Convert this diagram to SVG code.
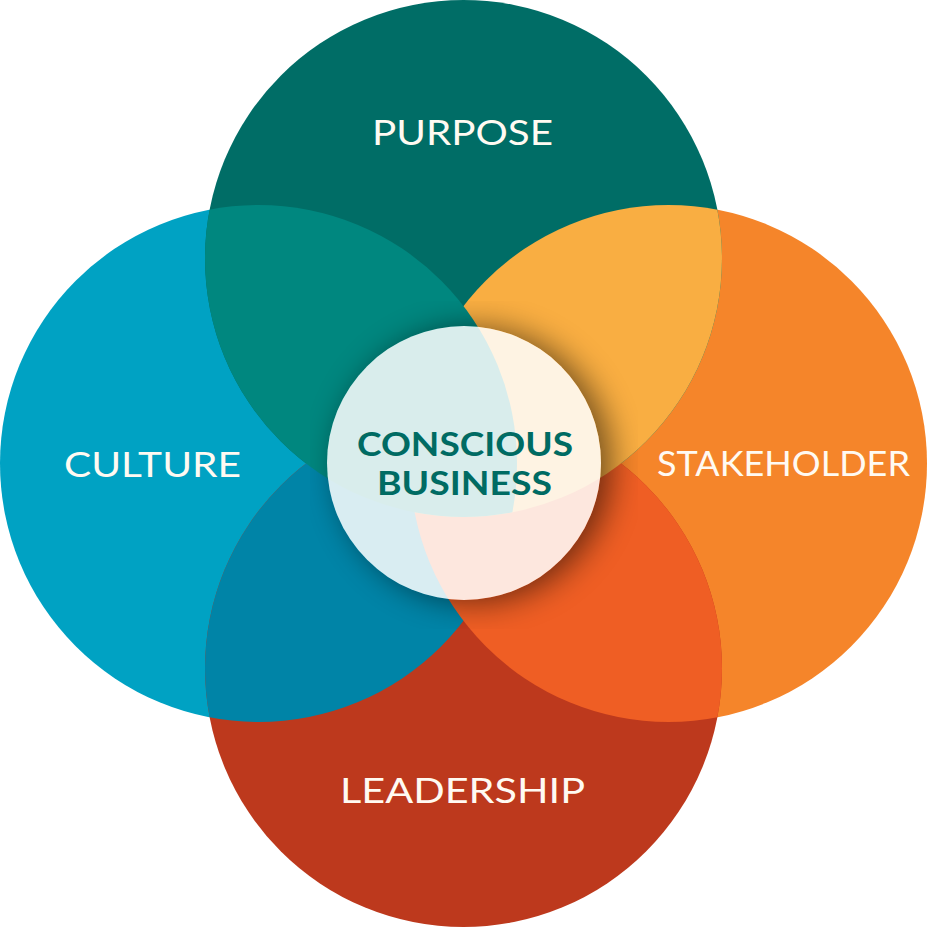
<svg xmlns="http://www.w3.org/2000/svg" width="927" height="927" viewBox="0 0 927 927">
  <style>
    .lbl { font-family: "Lato", "Liberation Sans", sans-serif; font-size: 35px; fill: #fffaf2; text-anchor: middle; }
    .ctr { font-family: "Lato", "Liberation Sans", sans-serif; font-size: 32px; font-weight: bold; fill: #006b63; text-anchor: middle; }
  </style>
  <defs>
    <clipPath id="cL"><circle cx="258.5" cy="463.5" r="258.5"/></clipPath>
    <clipPath id="cR"><circle cx="668.5" cy="463.5" r="258.5"/></clipPath>
    <mask id="outside">
      <rect x="0" y="0" width="927" height="927" fill="#fff"/>
      <circle cx="464" cy="463" r="137" fill="#000"/>
    </mask>
    <filter id="blur" x="-50%" y="-50%" width="200%" height="200%">
      <feGaussianBlur stdDeviation="16"/>
    </filter>
  </defs>

  <rect x="0" y="0" width="927" height="927" fill="#ffffff"/>

  <g id="culture">
    <circle cx="258.5" cy="463.5" r="258.5" fill="#00a2c3"/>
  </g>
  <g id="stakeholder">
    <circle cx="668.5" cy="463.5" r="258.5" fill="#f5852a"/>
  </g>
  <g id="purpose">
    <circle cx="463.5" cy="258.5" r="258.5" fill="#006d66"/>
  </g>
  <g id="leadership">
    <circle cx="463.5" cy="668.5" r="258.5" fill="#bd391d"/>
  </g>

  <g id="overlaps">
    <circle cx="463.5" cy="668.5" r="258.5" fill="#0084a7" clip-path="url(#cL)"/>
    <circle cx="463.5" cy="668.5" r="258.5" fill="#ef5e24" clip-path="url(#cR)"/>
    <circle cx="463.5" cy="258.5" r="258.5" fill="#f9ae42" clip-path="url(#cR)"/>
    <circle cx="463.5" cy="258.5" r="258.5" fill="#00877f" clip-path="url(#cL)"/>
  </g>

  <g id="shadow" mask="url(#outside)">
    <circle cx="474" cy="465" r="137" fill="#000" opacity="0.55" filter="url(#blur)"/>
  </g>

  <g id="conscious-business">
    <circle cx="464" cy="463" r="137" fill="#ffffff" fill-opacity="0.85"/>
    <text class="ctr" x="465" y="456" textLength="216" lengthAdjust="spacingAndGlyphs">CONSCIOUS</text>
    <text class="ctr" x="464.5" y="494.5" textLength="175" lengthAdjust="spacingAndGlyphs">BUSINESS</text>
  </g>

  <g id="labels">
    <text class="lbl" x="462.5" y="145" textLength="181" lengthAdjust="spacingAndGlyphs">PURPOSE</text>
    <text class="lbl" x="152.5" y="477" textLength="177" lengthAdjust="spacingAndGlyphs">CULTURE</text>
    <text class="lbl" x="783.5" y="476" textLength="253" lengthAdjust="spacingAndGlyphs">STAKEHOLDER</text>
    <text class="lbl" x="462.5" y="803" textLength="245" lengthAdjust="spacingAndGlyphs">LEADERSHIP</text>
  </g>
</svg>
